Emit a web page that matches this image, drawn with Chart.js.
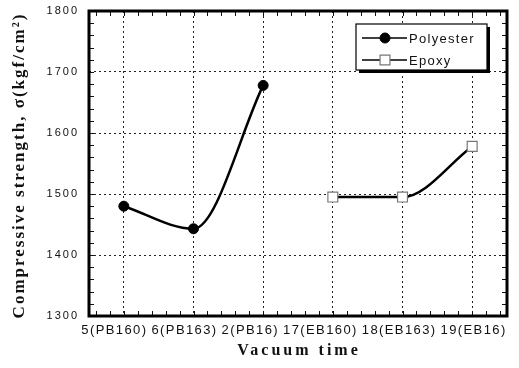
<!DOCTYPE html>
<html>
<head>
<meta charset="utf-8">
<script src="https://cdn.jsdelivr.net/npm/chart.js@4"></script>
<style>
  html, body { margin: 0; padding: 0; background: #fff; }
  #wrap { width: 519px; height: 368px; }
</style>
</head>
<body>
<div id="wrap"><canvas id="chart"></canvas></div>
<script>
// ---- data ----
const xLabels   = ["5(PB160)", "6(PB163)", "2(PB16)", "17(EB160)", "18(EB163)", "19(EB16)"];
const polyester = [1480, 1443, 1678, null, null, null];
const epoxy     = [null, null, null, 1495, 1495, 1578];
const yTicks    = [1300, 1400, 1500, 1600, 1700, 1800];
const yTitle    = "Compressive strength, σ(kgf/cm²)";
const xTitle    = "Vacuum time";

const SANS  = "'Liberation Sans', Arial, sans-serif";
const SERIF = "'Liberation Serif', 'Times New Roman', serif";
const INK   = "#111";

// frame, inner minor ticks, legend box and the text that needs letter spacing
const decorPlugin = {
  id: "decor",
  beforeDraw(chart) {
    chart.ctx.letterSpacing = "2px";   // y tick labels
  },
  afterDraw(chart) {
    const ctx = chart.ctx;
    const xs = chart.scales.x, ys = chart.scales.y;
    const { left, right, top, bottom } = chart.chartArea;

    ctx.save();
    ctx.letterSpacing = "0px";

    // minor ticks, pointing inward on all four sides
    ctx.strokeStyle = INK;
    ctx.lineWidth = 1;
    ctx.beginPath();
    for (let v = yTicks[0]; v <= yTicks[yTicks.length - 1]; v += 20) {
      const py = Math.round(ys.getPixelForValue(v)) + 0.5;
      ctx.moveTo(left, py);  ctx.lineTo(left + 5, py);
      ctx.moveTo(right, py); ctx.lineTo(right - 5, py);
    }
    for (let k = -2; k <= (xLabels.length - 1) * 5 + 2; k++) {
      const px = Math.round(xs.getPixelForValue(k / 5)) + 0.5;
      ctx.moveTo(px, bottom); ctx.lineTo(px, bottom - 5);
      ctx.moveTo(px, top);    ctx.lineTo(px, top + 5);
    }
    ctx.stroke();

    // heavy frame
    ctx.lineWidth = 3;
    ctx.strokeStyle = "#000";
    ctx.strokeRect(left, top, right - left, bottom - top);

    // legend box with drop shadow
    const bx = right - 151, by = top + 13, bw = 131, bh = 46;
    ctx.fillStyle = "#000";
    ctx.fillRect(bx + 3, by + 3, bw, bh);
    ctx.fillStyle = "#fff";
    ctx.fillRect(bx, by, bw, bh);
    ctx.lineWidth = 1.2;
    ctx.strokeRect(bx, by, bw, bh);

    chart.data.datasets.forEach((ds, i) => {
      const ry = by + 14 + i * 22;
      ctx.strokeStyle = "#000";
      ctx.lineWidth = 1.5;
      ctx.beginPath();
      ctx.moveTo(bx + 6, ry); ctx.lineTo(bx + 51, ry);
      ctx.stroke();
      ctx.fillStyle = ds.pointBackgroundColor;
      ctx.strokeStyle = ds.pointBorderColor;
      ctx.lineWidth = ds.pointBorderWidth;
      ctx.beginPath();
      if (ds.pointStyle === "rect") {
        const h = ds.pointRadius * Math.SQRT1_2;
        ctx.rect(bx + 29 - h, ry - h, 2 * h, 2 * h);
      } else {
        ctx.arc(bx + 29, ry, ds.pointRadius, 0, Math.PI * 2);
      }
      ctx.fill();
      ctx.stroke();

      ctx.fillStyle = INK;
      ctx.font = "13px " + SANS;
      ctx.letterSpacing = "1.3px";
      ctx.textAlign = "left";
      ctx.textBaseline = "middle";
      ctx.fillText(ds.label, bx + 53, ry + 1);
    });

    // category labels: one spaced row under the axis, as in the figure
    ctx.font = "13px " + SANS;
    ctx.letterSpacing = "1.4px";
    ctx.fillStyle = INK;
    ctx.textAlign = "left";
    ctx.textBaseline = "middle";
    const gap = 4;
    const widths = xLabels.map(t => ctx.measureText(t).width);
    const total = widths.reduce((a, b) => a + b, 0) + gap * (xLabels.length - 1);
    let cx = (left + right) / 2 - 4 - total / 2;
    xLabels.forEach((t, i) => {
      ctx.fillText(t, cx, bottom + 14);
      cx += widths[i] + gap;
    });

    // x axis title
    ctx.font = "bold 16px " + SERIF;
    ctx.letterSpacing = "3px";
    ctx.textAlign = "center";
    ctx.fillText(xTitle, (left + right) / 2 + 1, bottom + 35);

    // y axis title
    ctx.font = "bold 17px " + SERIF;
    ctx.letterSpacing = "2px";
    ctx.translate(20, (top + bottom) / 2 + 2);
    ctx.rotate(-Math.PI / 2);
    ctx.fillText(yTitle, 0, 0);

    ctx.restore();
  }
};

new Chart(document.getElementById("chart"), {
  type: "line",
  data: {
    labels: xLabels,
    datasets: [
      {
        label: "Polyester",
        data: polyester,
        borderColor: "#000",
        borderWidth: 2.5,
        cubicInterpolationMode: "monotone",
        pointStyle: "circle",
        pointRadius: 5,
        pointBackgroundColor: "#000",
        pointBorderColor: "#000",
        pointBorderWidth: 1,
      },
      {
        label: "Epoxy",
        data: epoxy,
        borderColor: "#000",
        borderWidth: 2.5,
        cubicInterpolationMode: "monotone",
        pointStyle: "rect",
        pointRadius: 7,
        pointBackgroundColor: "#fff",
        pointBorderColor: "#777",
        pointBorderWidth: 1.2,
      },
    ],
  },
  options: {
    responsive: true,
    maintainAspectRatio: false,
    animation: false,
    devicePixelRatio: 1,
    layout: { autoPadding: false, padding: { top: 11, right: 12, left: 0, bottom: 0 } },
    plugins: {
      legend: { display: false },
      tooltip: { enabled: false },
    },
    scales: {
      x: {
        type: "category",
        offset: true,
        grid: { color: "#222", lineWidth: 1, drawTicks: false },
        border: { display: false, dash: [2, 3] },
        ticks: { display: false },
        afterFit: s => { s.height = 52; },
      },
      y: {
        min: yTicks[0],
        max: yTicks[yTicks.length - 1],
        afterBuildTicks: s => { s.ticks = yTicks.map(v => ({ value: v })); },
        grid: { color: "#222", lineWidth: 1, drawTicks: true, tickLength: 7, tickColor: "rgba(0,0,0,0)" },
        border: { display: false, dash: [2, 3] },
        ticks: {
          color: INK,
          font: { family: SANS, size: 11 },
          padding: 3,
          callback: v => String(v),
        },
        afterFit: s => { s.width = 89; },
      },
    },
  },
  plugins: [decorPlugin],
});
</script>
</body>
</html>
